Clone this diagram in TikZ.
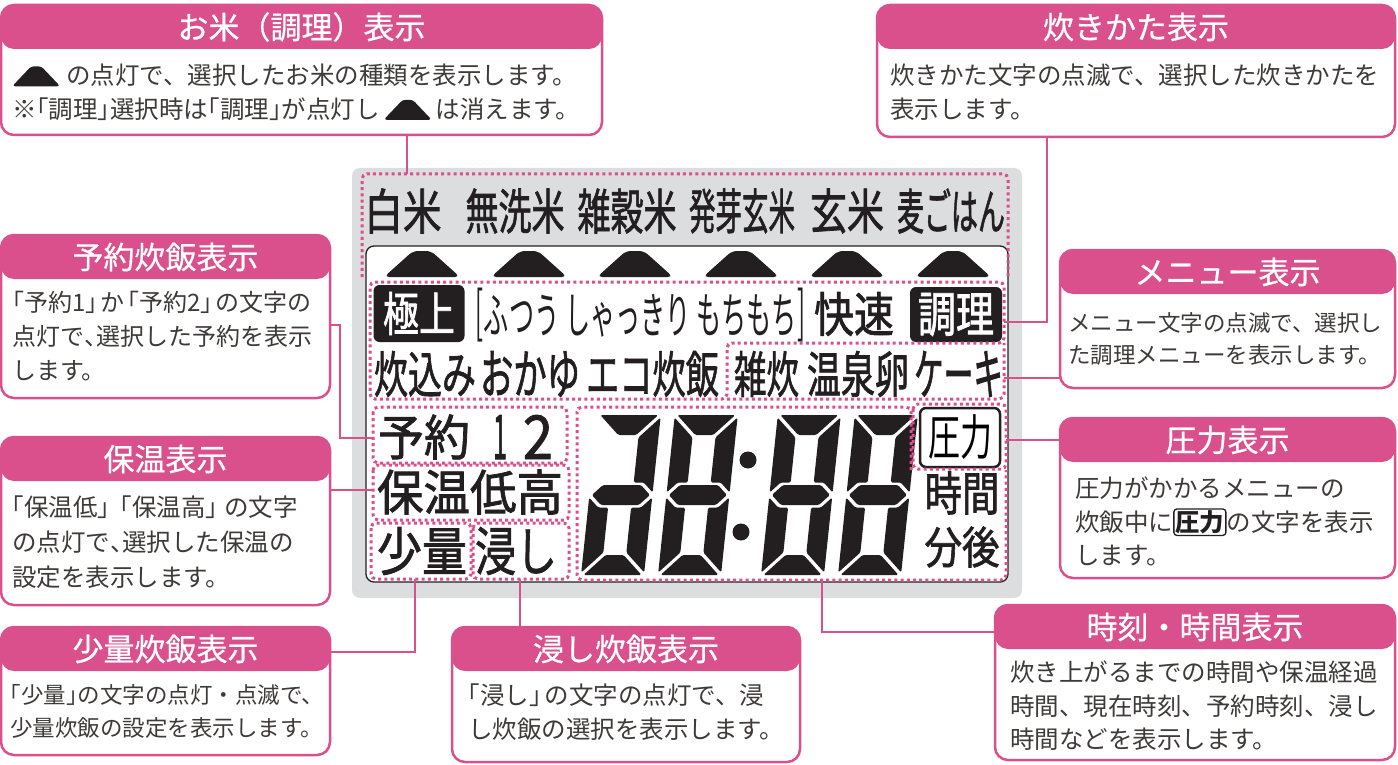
\documentclass[tikz,border=0pt]{standalone}
\usepackage{fontspec}
\setmainfont{Noto Sans CJK JP}
\newfontfamily\lcdfont{Noto Sans CJK JP}[FakeBold=1.6]
\newfontfamily\headfont{Noto Sans CJK JP}[FakeBold=0.6]
\usepackage{graphicx}

\definecolor{rosebar}{RGB}{217,80,141}
\definecolor{panelgray}{RGB}{220,221,222}
\definecolor{lcdink}{RGB}{35,31,32}
\definecolor{noteink}{RGB}{62,58,57}

% LCD word squeezed to its printed size (width, total height)
\newcommand{\lcdfit}[3]{\resizebox*{#1pt}{#2pt}{#3}}
% small mark used inside the notes
\newcommand{\moundmark}{\tikz[baseline=0pt,x=1pt,y=1pt]\fill[lcdink,rounded corners=3pt] (0,-1.5) -- (19,18.5) -- (29,18.5) -- (48,-1.5) -- cycle;}
\newcommand{\atsumark}{\tikz[baseline=(am.base)]\node[draw=lcdink,line width=1.3pt,rounded corners=3pt,inner sep=1.5pt,text=lcdink,font=\bfseries] (am) {圧力};}
% half width brackets
\newcommand{\lbk}{\makebox[0.5em][r]{「}}
\newcommand{\rbk}{\makebox[0.5em][l]{」}}
\newcommand{\tenn}{\makebox[0.5em][l]{、}}

% one seven segment digit, #1 = left x, #2 = 1 draws the upper left bar
\newcommand{\lcddigit}[2]{%
  \begin{scope}[shift={(#1,575)}, x=1pt, y=1pt, xslant=0.105]
    \fill[seg] (2.5,160) -- (60.5,160) -- (40.5,140) -- (22.5,140) -- cycle;             % top
    \fill[seg] (63,157.5) -- (43,137.5) -- (43,92.5) -- (53,92.5) -- (63,82.5) -- cycle; % upper right
    \fill[seg] (63,2.5) -- (43,22.5) -- (43,67.5) -- (53,67.5) -- (63,77.5) -- cycle;    % lower right
    \fill[seg] (2.5,0) -- (60.5,0) -- (40.5,20) -- (22.5,20) -- cycle;                   % bottom
    \fill[seg] (0,2.5) -- (20,22.5) -- (20,67.5) -- (10,67.5) -- (0,77.5) -- cycle;      % lower left
    \ifnum#2=1
      \fill[seg] (0,157.5) -- (20,137.5) -- (20,92.5) -- (10,92.5) -- (0,82.5) -- cycle; % upper left
    \fi
    \fill[seg] (2.5,80) -- (12.5,90) -- (50.5,90) -- (60.5,80) -- (50.5,70) -- (12.5,70) -- cycle; % middle
  \end{scope}}

\begin{document}
\begin{tikzpicture}[x=1pt, y=-1pt,
  callout/.style={draw=rosebar, line width=2.5pt, fill=white, rounded corners=13pt,
    inner sep=0pt, outer sep=0pt,
    path picture={\fill[rosebar] (path picture bounding box.north west)
      rectangle ([yshift=-44pt]path picture bounding box.north east);}},
  headtxt/.style={text=white, inner sep=0pt, font=\headfont\fontsize{31}{36}\selectfont},
  notetxt/.style={anchor=north west, inner sep=0pt, align=left, text=noteink,
    font=\fontsize{24.5}{33.5}\selectfont},
  lcdtxt/.style={inner sep=0pt, text=lcdink, font=\lcdfont},
  lcdbox/.style={fill=lcdink, text=white, rounded corners=6pt, inner sep=0pt, font=\lcdfont},
  hilite/.style={draw=rosebar, line width=3pt, dash pattern=on 3pt off 3.2pt, rounded corners=5pt},
  leader/.style={draw=rosebar, line width=2.5pt},
  seg/.style={fill=lcdink, rounded corners=1.5pt}]

  \useasboundingbox (0,0) rectangle (1398,765);

  % LCD panel
  \fill[panelgray, rounded corners=8pt] (352,168) rectangle (1022,598);
  \draw[lcdink, line width=1.3pt, fill=white, rounded corners=8pt] (366,246) rectangle (1008,582);

  % rice kinds
  \foreach \nm/\cx/\w/\txt in {hakumai/403/77/白米, musenmai/515/99/無洗米, zakkoku/627/99/雑穀米,
      hatsuga/742/106/発芽玄米, genmai/847/74/玄米, mugi/951/108/麦ごはん}
    \node[lcdtxt] (rice-\nm) at (\cx,211) {\lcdfit{\w}{45}{\txt}};

  % selection marks
  \foreach \cx in {422,529,635,741,847,953}
    \fill[lcdink, rounded corners=5pt] (\cx-38,277) -- (\cx-9,251) -- (\cx+9,251) -- (\cx+38,277) -- cycle;

  % cooking style row
  \node[lcdbox, minimum width=91pt, minimum height=57pt] (gokujo) at (419,313.5) {\lcdfit{72}{43}{極上}};
  \node[lcdtxt, font=\mdseries] (lbr) at (479,315) {\lcdfit{8}{54}{[}};
  \node[lcdtxt, font=\mdseries] (futsu) at (640.5,316) {\lcdfit{313}{43}{ふつう しゃっきり もちもち}};
  \node[lcdtxt, font=\mdseries] (rbr) at (801,315) {\lcdfit{8}{54}{]}};
  \node[lcdtxt] (kaisoku) at (854,314) {\lcdfit{80}{44}{快速}};
  \node[lcdbox, minimum width=92pt, minimum height=55pt] (chori) at (956,314.5) {\lcdfit{76}{43}{調理}};

  % menu row
  \foreach \nm/\cx/\w/\txt in {takikomi/425/102/炊込み, okayu/530/100/おかゆ, eco/652.5/133/エコ炊飯,
      zosui/766.5/65/雑炊, onsen/858/102/温泉卵, cake/958.5/89/ケーキ}
    \node[lcdtxt] (menu-\nm) at (\cx,374) {\lcdfit{\w}{46}{\txt}};

  % left column
  \node[lcdtxt] (yoyaku) at (424,437) {\lcdfit{92}{45}{予約}};
  \node[lcdtxt] (yoyaku1) at (500,437) {\lcdfit{14}{44}{1}};
  \node[lcdtxt] (yoyaku2) at (538,437) {\lcdfit{30}{44}{2}};
  \node[lcdtxt] (hoon) at (470,492) {\lcdfit{186}{45}{保温低高}};
  \node[lcdtxt] (shoryo) at (422,551) {\lcdfit{90}{48}{少量}};
  \node[lcdtxt] (hitashi) at (516,551) {\lcdfit{82}{48}{浸し}};

  % right column
  \node[draw=lcdink, line width=2.5pt, fill=white, rounded corners=6pt, minimum width=80pt,
    minimum height=59pt, inner sep=0pt] (atsu) at (960,437.5) {\lcdfit{64}{45}{圧力}};
  \node[lcdtxt] (jikan) at (962,493) {\lcdfit{75}{43}{時間}};
  \node[lcdtxt] (fungo) at (962,547) {\lcdfit{75}{41}{分後}};

  % clock digits
  \lcddigit{581}{0}
  \lcddigit{658}{1}
  \lcddigit{761}{1}
  \lcddigit{838}{1}
  \fill[lcdink] (748,460) circle (8.5pt);
  \fill[lcdink] (741,532) circle (8.5pt);

  % dotted groups
  \draw[hilite] (362,277) -- (362,174) -- (1008,174) -- (1008,277);
  \draw[hilite] (370,282) -- (1004,282) -- (1004,343) -- (727,343) -- (727,399) -- (370,399) -- cycle;
  \draw[hilite] (727,399) -- (1004,399) -- (1004,343);
  \draw[hilite] (373,407) rectangle (567,463);
  \draw[hilite] (373,465) rectangle (569,520);
  \draw[hilite] (371,523) rectangle (471,579);
  \draw[hilite] (473,523) rectangle (569,579);
  \draw[hilite] (913,404) rectangle (1006,469);
  \draw[hilite] (911,470) -- (911,407) -- (577,407) -- (577,580) -- (1006,580) -- (1006,470);

  % callouts
  \node[callout, minimum width=601pt, minimum height=130pt] (c-okome) at (301.5,70) {};
  \node[headtxt] (okome-t) at ([yshift=-22pt]c-okome.north) {お米（調理）表示};
  \node[notetxt] (okome-n) at ([xshift=11pt,yshift=-59pt]c-okome.north west)
    {\moundmark\hspace{6pt}の点灯で、選択したお米の種類を表示します。\\
     ※\lbk 調理\rbk 選択時は\lbk 調理\rbk が点灯し\hspace{4pt}\moundmark\hspace{4pt}は消えます。};

  \node[callout, minimum width=518pt, minimum height=132pt] (c-suikata) at (1136,71) {};
  \node[headtxt] (suikata-t) at ([yshift=-22pt]c-suikata.north) {炊きかた表示};
  \node[notetxt] (suikata-n) at ([xshift=13pt,yshift=-59pt]c-suikata.north west)
    {炊きかた文字の点滅で、選択した炊きかたを\\表示します。};

  \node[callout, minimum width=329pt, minimum height=163pt] (c-yoyaku) at (165.5,316.5) {};
  \node[headtxt] (yoyaku-t) at ([yshift=-22pt]c-yoyaku.north) {予約炊飯表示};
  \node[notetxt, font=\fontsize{24}{34}\selectfont] (yoyaku-n) at ([xshift=11pt,yshift=-56pt]c-yoyaku.north west)
    {\lbk 予約1\rbk\hspace{3pt}か\hspace{3pt}\lbk 予約2\rbk\hspace{3pt}の文字の\\点灯で\tenn 選択した予約を表示\\します。};

  \node[callout, minimum width=329pt, minimum height=168pt] (c-hoon) at (165.5,521) {};
  \node[headtxt] (hoon-t) at ([yshift=-22pt]c-hoon.north) {保温表示};
  \node[notetxt, font=\fontsize{24.5}{35}\selectfont] (hoon-n) at ([xshift=11pt,yshift=-59pt]c-hoon.north west)
    {\lbk 保温低\rbk\hspace{10pt}\lbk 保温高\rbk\hspace{6pt}の文字\\の点灯で\tenn 選択した保温の\\設定を表示します。};

  \node[callout, minimum width=329pt, minimum height=128pt] (c-shoryo) at (165.5,691) {};
  \node[headtxt] (shoryo-t) at ([yshift=-22pt]c-shoryo.north) {少量炊飯表示};
  \node[notetxt, font=\fontsize{22.5}{33}\selectfont] (shoryo-n) at ([xshift=9pt,yshift=-57pt]c-shoryo.north west)
    {\lbk 少量\rbk の文字の点灯・点滅で、\\少量炊飯の設定を表示します。};

  \node[callout, minimum width=348pt, minimum height=135pt] (c-hitashi) at (626,694.5) {};
  \node[headtxt] (hitashi-t) at ([yshift=-22pt]c-hitashi.north) {浸し炊飯表示};
  \node[notetxt] (hitashi-n) at ([xshift=16pt,yshift=-57pt]c-hitashi.north west)
    {\lbk 浸し\rbk\hspace{3pt}の文字の点灯で、浸\\し炊飯の選択を表示します。};

  \node[callout, minimum width=400pt, minimum height=155pt] (c-jikoku) at (1195,682.5) {};
  \node[headtxt] (jikoku-t) at ([yshift=-22pt]c-jikoku.north) {時刻・時間表示};
  \node[notetxt] (jikoku-n) at ([xshift=15pt,yshift=-56pt]c-jikoku.north west)
    {炊き上がるまでの時間や保温経過\\時間、現在時刻、予約時刻、浸し\\時間などを表示します。};

  \node[callout, minimum width=335pt, minimum height=138pt] (c-menu) at (1227.5,319) {};
  \node[headtxt] (menu-t) at ([yshift=-22pt]c-menu.north) {メニュー表示};
  \node[notetxt, font=\fontsize{22.5}{32}\selectfont] (menu-n) at ([xshift=8pt,yshift=-62pt]c-menu.north west)
    {メニュー文字の点滅で、選択し\\た調理メニューを表示します。};

  \node[callout, minimum width=335pt, minimum height=160pt] (c-atsu) at (1227.5,498) {};
  \node[headtxt] (atsu-t) at ([yshift=-22pt]c-atsu.north) {圧力表示};
  \node[notetxt] (atsu-n) at ([xshift=15pt,yshift=-59pt]c-atsu.north west)
    {圧力がかかるメニューの\\炊飯中に\atsumark の文字を表示\\します。};

  % leader lines
  \coordinate (rice-n) at (407,174);
  \draw[leader] (c-okome.south -| rice-n) -- (rice-n);
  \coordinate (bend-suikata) at (1047,322);
  \coordinate (mode-e) at (1004,322);
  \draw[leader] (c-suikata.south -| bend-suikata) -- (bend-suikata) -- (mode-e);
  \coordinate (bend-yoyaku) at (340,325);
  \coordinate (yoyaku-w) at (373,438);
  \draw[leader] (c-yoyaku.east |- bend-yoyaku) -- (bend-yoyaku) |- (yoyaku-w);
  \coordinate (hoon-w) at (373,490);
  \draw[leader] (c-hoon.east |- hoon-w) -- (hoon-w);
  \coordinate (bend-shoryo) at (415,652);
  \coordinate (shoryo-s) at (415,579);
  \draw[leader] (c-shoryo.east |- bend-shoryo) -- (bend-shoryo) -- (shoryo-s);
  \coordinate (hitashi-s) at (520,579);
  \draw[leader] (c-hitashi.north -| hitashi-s) -- (hitashi-s);
  \coordinate (bend-jikoku) at (822,632);
  \coordinate (digits-s) at (822,580);
  \draw[leader] (c-jikoku.west |- bend-jikoku) -- (bend-jikoku) -- (digits-s);
  \coordinate (menu-e) at (1004,378);
  \draw[leader] (c-menu.west |- menu-e) -- (menu-e);
  \coordinate (atsu-e) at (1006,440);
  \draw[leader] (c-atsu.west |- atsu-e) -- (atsu-e);

\end{tikzpicture}
\end{document}
